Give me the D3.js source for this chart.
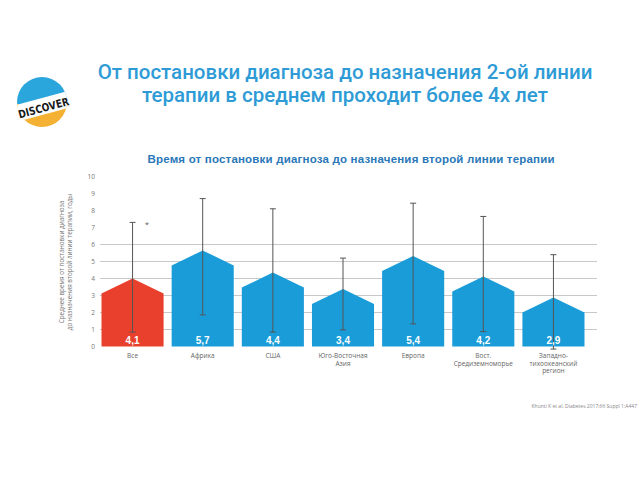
<!DOCTYPE html>
<html><head><meta charset="utf-8">
<script src="https://cdn.jsdelivr.net/npm/d3@7"></script>
<style>body{margin:0;background:#fff;}svg{display:block;font-family:"Open Sans",Roboto,sans-serif;}</style>
</head><body><svg id="c" width="640" height="480"></svg>
<script>
const categories = ["Все","Африка","США","Юго-Восточная|Азия","Европа","Вост.|Средиземноморье","Западно-|тихоокеанский|регион"];
const values = [4.1, 5.7, 4.4, 3.4, 5.4, 4.2, 2.9];
const peakValues = [4.0, 5.65, 4.35, 3.38, 5.33, 4.12, 2.88];
const errLow = [0.85, 1.86, 0.85, 0.98, 1.33, 0.88, -0.15];
const errHigh = [7.3, 8.7, 8.1, 5.2, 8.43, 7.65, 5.4];
const yTicks = [0,1,2,3,4,5,6,7,8,9,10];
const gridTicks = [1,2,3,4,5,6];
const labels = ["4,1","5,7","4,4","3,4","5,4","4,2","2,9"];

const svg = d3.select("#c");
const blue = "#199cd8", red = "#e9402d";

// Title
[["От постановки диагноза до назначения 2-ой линии",79],["терапии в среднем проходит более 4х лет",102]].forEach(([t,yy])=>{
  svg.append("text").attr("x",345).attr("y",yy).attr("text-anchor","middle")
    .attr("font-size",20.5).attr("font-weight",500).attr("fill","#2e9bd6")
    .attr("font-family","Roboto, sans-serif").text(t);
});

// Logo
const logo = svg.append("g").attr("transform","translate(42,102)");
logo.append("defs").append("clipPath").attr("id","lc").append("circle").attr("r",25);
const lg = logo.append("g").attr("clip-path","url(#lc)");
lg.append("rect").attr("x",-26).attr("y",-26).attr("width",52).attr("height",28).attr("fill","#2ba6dc");
lg.append("rect").attr("x",-26).attr("y",2).attr("width",52).attr("height",24).attr("fill","#f4b133");
lg.append("path").attr("d","M-30,4 L30,-12 L30,5 L-30,21 Z").attr("fill","#fff");
logo.append("text").attr("transform","rotate(-15) translate(0,10)").attr("text-anchor","middle")
  .attr("font-size",11).attr("font-weight",700).attr("fill","#1a1a1a")
  .attr("font-family","'Liberation Sans Narrow','DejaVu Sans Condensed',sans-serif")
  .attr("textLength",52).attr("lengthAdjust","spacingAndGlyphs").text("DISCOVER");

// Subtitle
svg.append("text").attr("x",351).attr("y",163).attr("text-anchor","middle")
  .attr("font-size",11.5).attr("font-weight",700).attr("fill","#2a78b8")
  .attr("font-family","'Liberation Sans',Arial,sans-serif")
  .attr("textLength",407).attr("lengthAdjust","spacing")
  .text("Время от постановки диагноза до назначения второй линии терапии");

// Scales
const y = d3.scaleLinear().domain([0,10]).range([346.5,176.5]);
const x = d3.scaleBand().domain(d3.range(categories.length)).range([98,588]).paddingInner(0.115).paddingOuter(0.05);

// gridlines
svg.append("g").selectAll("line").data(gridTicks).join("line")
  .attr("x1",100).attr("x2",597).attr("y1",d=>y(d)).attr("y2",d=>y(d))
  .attr("stroke","#c8c8c8").attr("stroke-width",1);

// y axis tick labels
const yAxis = d3.axisLeft(y).tickValues(yTicks).tickSize(0).tickPadding(0);
const ga = svg.append("g").attr("transform","translate(95,0)").call(yAxis);
ga.select(".domain").remove();
ga.selectAll("text").attr("font-size",6.5).attr("fill","#777").attr("font-family","'Open Sans',sans-serif");

// y axis title
const yt = svg.append("text").attr("transform","translate(64,262) rotate(-90)").attr("text-anchor","middle")
  .attr("font-size",6.3).attr("fill","#777");
yt.append("tspan").attr("x",0).attr("dy",0).text("Среднее время от постановки диагноза");
yt.append("tspan").attr("x",0).attr("dy",8).text("до назначения второй линии терапии, годы");

// bars (house shape)
const peakH = 15;
svg.append("g").selectAll("path").data(values).join("path")
  .attr("d",(d,i)=>{
    const x0 = x(i), x1 = x(i)+x.bandwidth(), xm = x(i)+x.bandwidth()/2;
    const yp = y(peakValues[i]), ys = yp+peakH, yb = y(0);
    return `M${x0},${yb} L${x0},${ys} L${xm},${yp} L${x1},${ys} L${x1},${yb} Z`;
  })
  .attr("fill",(d,i)=>i===0?red:blue);

// error bars
const eg = svg.append("g").attr("stroke","#555").attr("stroke-width",1);
values.forEach((v,i)=>{
  const cx = x(i)+x.bandwidth()/2;
  eg.append("line").attr("x1",cx).attr("x2",cx).attr("y1",y(errLow[i])).attr("y2",y(errHigh[i]));
  eg.append("line").attr("x1",cx-3).attr("x2",cx+3).attr("y1",y(errLow[i])).attr("y2",y(errLow[i]));
  eg.append("line").attr("x1",cx-3).attr("x2",cx+3).attr("y1",y(errHigh[i])).attr("y2",y(errHigh[i]));
});

// asterisk
svg.append("text").attr("x",145).attr("y",227).attr("font-size",7).attr("fill","#555").text("*");

// value labels
svg.append("g").selectAll("text").data(labels).join("text")
  .attr("x",(d,i)=>x(i)+x.bandwidth()/2).attr("y",344).attr("text-anchor","middle")
  .attr("font-size",10).attr("font-weight",700).attr("fill","#fff")
  .attr("font-family","'Liberation Sans',Arial,sans-serif").text(d=>d);

// category labels
svg.append("g").selectAll("text").data(categories).join("text")
  .attr("x",(d,i)=>x(i)+x.bandwidth()/2).attr("y",358).attr("text-anchor","middle")
  .attr("font-size",6.5).attr("fill","#666")
  .each(function(d){
    const t = d3.select(this);
    d.split("|").forEach((s,k)=>t.append("tspan").attr("x",t.attr("x")).attr("dy",k===0?0:7.5).text(s));
  });

// source
svg.append("text").attr("x",637).attr("y",408).attr("text-anchor","end")
  .attr("font-size",5).attr("fill","#888").text("Khunti K et al. Diabetes 2017;66 Suppl 1:A447");
</script></body></html>
